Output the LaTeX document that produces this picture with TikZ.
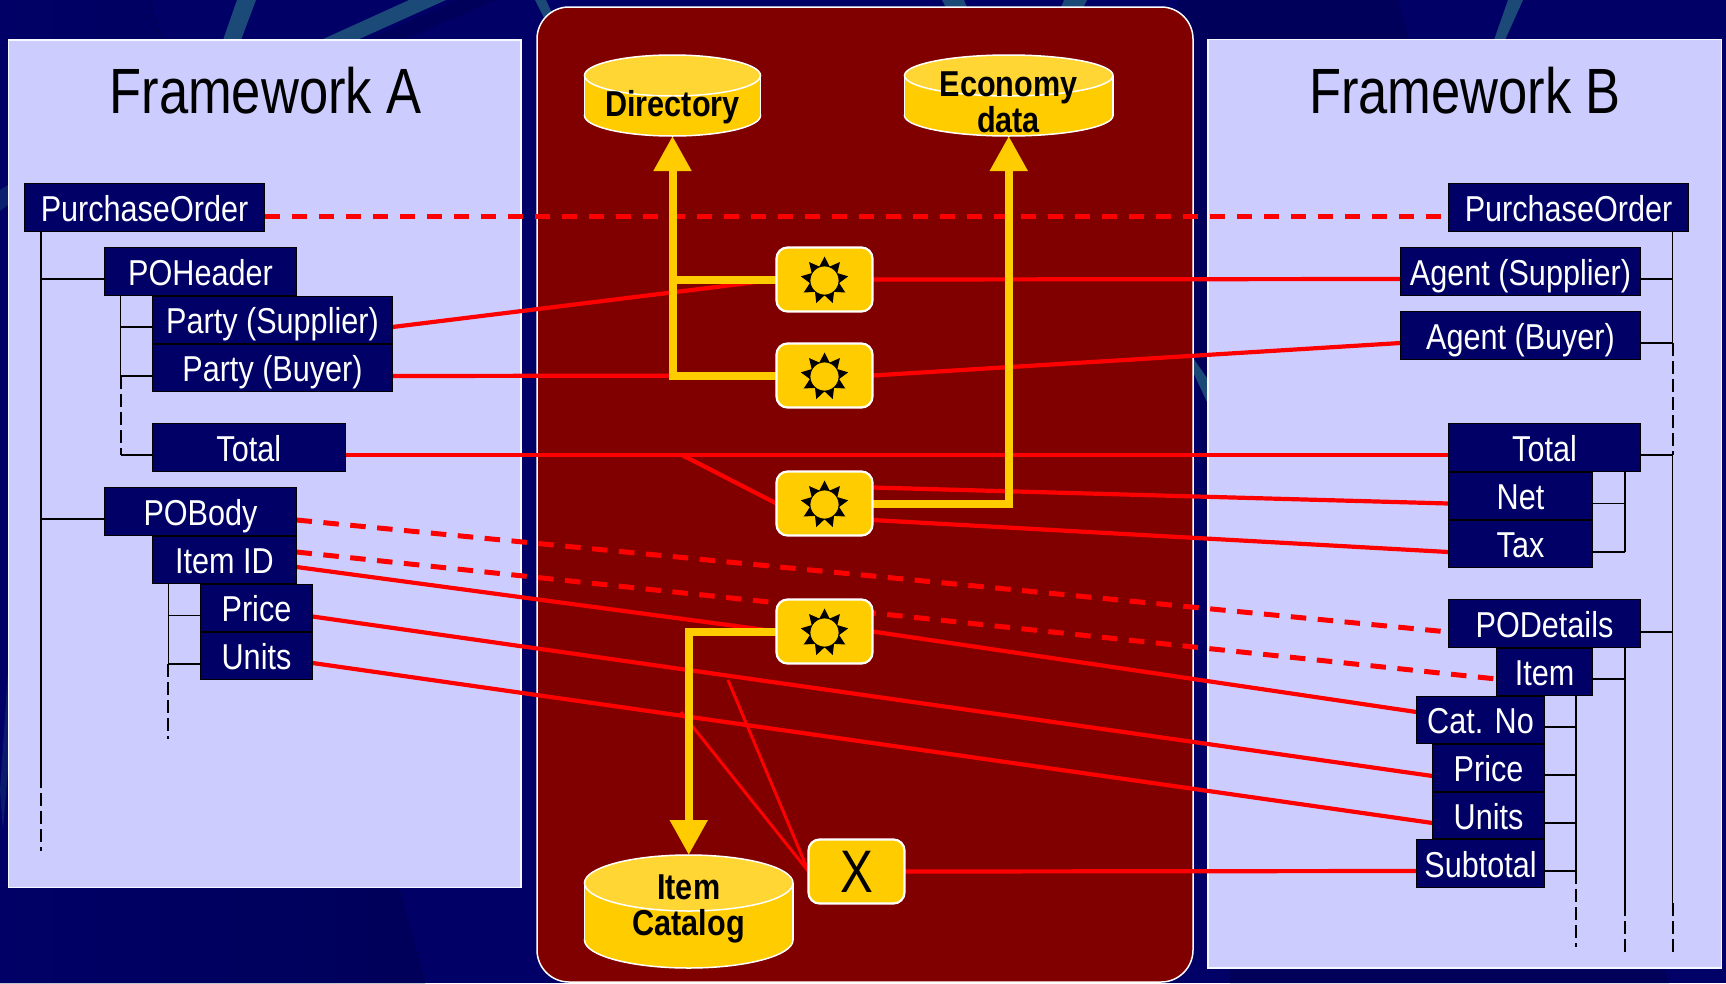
\documentclass[tikz,border=0pt]{standalone}
\usepackage{fontspec}
\setmainfont{Liberation Sans}
\newfontfamily\boxfont[FakeStretch=.85]{Liberation Sans}
\newfontfamily\titlefont[FakeStretch=.82]{Liberation Sans}
\usetikzlibrary{arrows.meta,shapes.geometric,calc}
\definecolor{bgnavy}{HTML}{000066}
\definecolor{bgdark}{HTML}{00005A}
\definecolor{streak}{HTML}{1C4A78}
\definecolor{panel}{HTML}{CCCCFF}
\definecolor{maroon}{HTML}{800000}
\definecolor{gold}{HTML}{FFCC00}
\definecolor{goldlight}{HTML}{FFD633}
\pgfdeclarelayer{back}
\pgfdeclarelayer{redlayer}
\pgfdeclarelayer{yellowlayer}
\pgfsetlayers{back,redlayer,yellowlayer,main}
\tikzset{
  navybox/.style={draw=black,line width=1.2pt,fill=bgnavy,text=white,inner sep=0pt,outer sep=0pt,
    text height=27pt,text depth=0pt,font=\boxfont\fontsize{36}{36}\selectfont},
  pane/.style={draw=white!85!panel,line width=1.5pt,fill=panel,inner sep=0pt,outer sep=0pt},
  center pane/.style={draw=white,line width=1.5pt,fill=maroon,rounded corners=32pt,inner sep=0pt,outer sep=0pt},
  opbox/.style={draw=white,line width=2.2pt,fill=gold,rounded corners=11pt,inner sep=0pt,outer sep=0pt,
    minimum width=96pt,minimum height=64pt},
  sunstar/.style={star,star points=9,star point ratio=1.62,fill=black,draw=none,minimum size=48pt,inner sep=0pt},
  suncore/.style={circle,fill=gold,draw=black,line width=.8pt,minimum size=29pt,inner sep=0pt},
  redline/.style={draw=red,line width=4.2pt},
  redthin/.style={draw=red,line width=3pt},
  reddash/.style={draw=red,line width=5pt,dash pattern=on 15.5pt off 11.5pt},
  yline/.style={draw=gold,line width=8pt},
  yarrow/.style={yline,-{Triangle[width=36pt,length=35pt]}},
  treeline/.style={draw=black,line width=1.6pt},
  treedash/.style={draw=black,line width=2pt,dash pattern=on 13pt off 5pt},
  dbline/.style={draw=white,line width=1.5pt},
  dbanchor/.style={inner sep=0pt,outer sep=0pt,draw=none},
  dbtext/.style={align=center,inner sep=0pt,text=black,font=\boxfont\bfseries\fontsize{36}{36}\selectfont},
  title/.style={text=black,inner sep=0pt,font=\titlefont\fontsize{64}{64}\selectfont},
}
\newcommand\nbox[6]{\node[navybox,minimum width={(#4-#2-1)*1pt},minimum height={(#5-#3-1)*1pt}] (#1) at ({(#2+#4)/2},{(#3+#5)/2}) {#6};}
\newcommand\twig[3]{\draw[treeline] ([yshift=#2pt]#1) -- ([yshift=#2pt]#1 -| #3);}
% name, x1, x2, ytop (top-ellipse centre), ybot (bottom-ellipse centre), ry
\newcommand\dbcyl[6]{%
  \pgfmathsetmacro\cx{(#2+#3)/2}\pgfmathsetmacro\rx{(#3-#2)/2}%
  \draw[dbline,fill=gold] (\cx,#5) ellipse [x radius=\rx,y radius=#6];
  \fill[gold] (#2,#4) rectangle (#3,#5);
  \draw[dbline] (#2,#4) -- (#2,#5) (#3,#4) -- (#3,#5);
  \draw[dbline,fill=goldlight] (\cx,#4) ellipse [x radius=\rx,y radius=#6];
  \node[dbanchor,minimum width={(#3-#2)*1pt},minimum height={(#5-#4+2*#6)*1pt}] (#1) at (\cx,{(#4+#5)/2}) {};
}
\newcommand\sunat[2]{\node[sunstar] (#1star) at ([yshift=-1pt]#2.center) {}; \node[suncore] (#1core) at ([yshift=-1pt]#2.center) {};}
\begin{document}
\begin{tikzpicture}[x=1pt,y=-1pt]
\useasboundingbox (0,0) rectangle (1726,983);

\begin{pgfonlayer}{back}
  \fill[bgnavy] (0,0) rectangle (1726,983);
  \fill[left color=bgnavy,right color=bgdark] (0,0) -- (150,0) -- (425,983) -- (0,983) -- cycle;
  \fill[bgdark] (1177,0) -- (1398,0) -- (1669,983) -- (1230,983) -- cycle;
  \fill[bgdark] (457,0) -- (496,0) -- (407,38) -- (371,38) -- cycle;
  \fill[streak] (237,0) -- (256,0) -- (241,40) -- (223,40) -- cycle;
  \fill[streak] (409,0) -- (446,0) -- (357,40) -- (321,40) -- cycle;
  \fill[streak] (535,0) -- (546,0) -- (556,22) -- (548,26) -- cycle;
  \fill[streak] (942,0) -- (964,0) -- (968,10) -- (947,10) -- cycle;
  \fill[streak] (1064,0) -- (1087,0) -- (1082,10) -- (1060,10) -- cycle;
  \fill[streak] (1508,0) -- (1523,0) -- (1505,40) -- (1494,40) -- cycle;
  \fill[streak] (1193,358) -- (1193,372) -- (1207,402) -- (1207,378) -- cycle;
  \fill[streak!45!bgnavy] (0,190) -- (8,185) -- (8,205) -- (0,211) -- cycle;
  \fill[streak!35!bgnavy] (0,790) -- (8,670) -- (8,770) -- (3,830) -- cycle;
  \node[pane,minimum width=512.5pt,minimum height=847.5pt] (panelA) at (264.75,463.5) {};
  \node[center pane,minimum width=656pt,minimum height=975pt] (panelM) at (865,494.5) {};
  \node[pane,minimum width=513.5pt,minimum height=928.5pt] (panelB) at (1464.75,503.5) {};
\end{pgfonlayer}

\node[title] (titleA) at (265.5,91) {Framework A};
\node[title] (titleB) at (1465,91) {Framework B};

% Framework A boxes
\nbox{poL}{24}{183}{265}{232}{PurchaseOrder}
\nbox{hdr}{104}{247}{297}{296}{POHeader}
\nbox{partyS}{152}{296}{393}{344}{Party (Supplier)}
\nbox{partyB}{152}{344}{393}{392}{Party (Buyer)}
\nbox{totL}{152}{423}{345.6}{472}{Total}
\nbox{body}{104}{487}{297}{536}{POBody}
\nbox{itemid}{152}{536}{297}{584}{Item ID}
\nbox{priceL}{200}{584}{313}{632}{Price}
\nbox{unitsL}{200}{632}{313}{680}{Units}

% Framework B boxes
\nbox{poR}{1448}{183}{1689}{232}{PurchaseOrder}
\nbox{agentS}{1400}{247}{1641}{296}{Agent (Supplier)}
\nbox{agentB}{1400}{311}{1641}{360}{Agent (Buyer)}
\nbox{totR}{1448}{423}{1641}{472}{Total}
\nbox{net}{1448}{472}{1593}{520}{Net}
\nbox{tax}{1448}{520}{1593}{568}{Tax}
\nbox{details}{1448}{599}{1641}{648}{PODetails}
\nbox{item}{1496}{648}{1593}{696}{Item}
\nbox{cat}{1416}{696}{1545}{744}{Cat. No}
\nbox{priceR}{1432}{744}{1545}{792}{Price}
\nbox{unitsR}{1432}{792}{1545}{839}{Units}
\nbox{subtot}{1416}{839}{1545}{888}{Subtotal}

% data stores
\dbcyl{dir}{584.5}{760.5}{75.5}{115.5}{20.5}
\dbcyl{eco}{904.5}{1113}{75.5}{115.5}{20.5}
\dbcyl{catalog}{584.5}{793}{883}{940}{28}
\node[dbtext] (dirT) at (672.5,107) {Directory};
\node[dbtext] (ecoT) at (1008.5,102) {Economy\\data};
\node[dbtext] (catT) at (688.75,908.5) {Item\\Catalog};

% operator boxes
\node[opbox] (g1) at (824.5,279.5) {};
\node[opbox] (g2) at (824.5,375.5) {};
\node[opbox] (g3) at (824.5,503.5) {};
\node[opbox] (g4) at (824.5,631.5) {};
\node[opbox,text=black,font=\titlefont\fontsize{60}{60}\selectfont] (xop) at (856.5,871.5) {X};
\sunat{s1}{g1}
\sunat{s2}{g2}
\sunat{s3}{g3}
\sunat{s4}{g4}

% free ends
\coordinate (tapTotal) at (682,455);
\coordinate (xfreeA) at (681,712);
\coordinate (xfreeB) at (728,680);
\coordinate (t1) at (40.7,775);  \coordinate (t1e) at (40.7,851);
\coordinate (t2) at (120.5,376); \coordinate (t2e) at (120.5,455);
\coordinate (t3) at (168.4,664); \coordinate (t3e) at (168.4,739);
\coordinate (r1a) at (1672.6,343); \coordinate (r1b) at (1672.6,455);
\coordinate (r1c) at (1672.6,903); \coordinate (r1e) at (1672.6,952);
\coordinate (r2a) at (1625,552);
\coordinate (r3) at (1625,903);  \coordinate (r3e) at (1625,952);
\coordinate (r4) at (1576,871);  \coordinate (r4e) at (1576,947);

\begin{pgfonlayer}{redlayer}
  % tree lines, Framework A
  \draw[treeline] (t1 |- poL.south) -- (t1);
  \draw[treedash] (t1) -- (t1e);
  \twig{hdr.west}{-7.5}{t1}
  \twig{body.west}{-7.5}{t1}
  \draw[treeline] (t2 |- hdr.south) -- (t2);
  \draw[treedash] (t2) -- (t2e);
  \twig{partyS.west}{-7}{t2}
  \twig{partyB.west}{-8}{t2}
  \twig{totL.west}{-7.5}{t2}
  \draw[treeline] (t3 |- itemid.south) -- (t3);
  \draw[treedash] (t3) -- (t3e);
  \twig{priceL.west}{-7.5}{t3}
  \twig{unitsL.west}{-8}{t3}
  % tree lines, Framework B
  \draw[treeline] (r1a |- poR.south) -- (r1a);
  \draw[treedash] (r1a) -- (r1b);
  \draw[treeline] (r1b) -- (r1c);
  \draw[treedash] (r1c) -- (r1e);
  \twig{agentS.east}{-7.5}{r1a}
  \twig{agentB.east}{-7.5}{r1a}
  \twig{totR.east}{-7.5}{r1a}
  \twig{details.east}{-8.5}{r1a}
  \draw[treeline] (r2a |- totR.south) -- (r2a);
  \twig{net.east}{-7.5}{r2a}
  \twig{tax.east}{-8}{r2a}
  \draw[treeline] (r3 |- details.south) -- (r3);
  \draw[treedash] (r3) -- (r3e);
  \twig{item.east}{-7}{r3}
  \draw[treeline] (r4 |- item.south) -- (r4);
  \draw[treedash] (r4) -- (r4e);
  \twig{cat.east}{-7}{r4}
  \twig{priceR.east}{-7}{r4}
  \twig{unitsR.east}{-7.5}{r4}
  \twig{subtot.east}{-7.5}{r4}
  % mappings
  \draw[reddash] ([yshift=-8.5pt]poL.east) -- ([yshift=-8.5pt]poR.west);
  \draw[reddash] ([yshift=-8.5pt]body.east) -- ([yshift=-8.5pt]details.west);
  \draw[reddash] ([yshift=8pt]itemid.east) -- ([yshift=-7pt]item.west);
  \draw[redline] ([yshift=-7pt]partyS.east) -- (g1.west);
  \draw[redline] ([yshift=-8pt]partyB.east) -- (g2.west);
  \draw[redline] (g1.east) -- ([yshift=-7.5pt]agentS.west);
  \draw[redline] (g2.east) -- ([yshift=-7.5pt]agentB.west);
  \draw[redline] ([yshift=-7.5pt]totL.east) -- ([yshift=-7.5pt]totR.west);
  \draw[redline] (tapTotal) -- (g3.west);
  \draw[redline] ([yshift=16pt]g3.east) -- ([yshift=-7.5pt]net.west);
  \draw[redline] ([yshift=-16.5pt]g3.east) -- ([yshift=-8pt]tax.west);
  \draw[redline] ([yshift=-7pt]itemid.east) -- (g4.west);
  \draw[redline] (g4.east) -- ([yshift=8pt]cat.west);
  \draw[redline] ([yshift=-8.5pt]priceL.east) -- ([yshift=-8pt]priceR.west);
  \draw[redline] ([yshift=-7pt]unitsL.east) -- ([yshift=-7.5pt]unitsR.west);
  \draw[redline] (xop.east) -- ([yshift=-7.5pt]subtot.west);
  \draw[redthin] (xop.west) -- (xfreeA);
  \draw[redthin] (xop.west) -- (xfreeB);
\end{pgfonlayer}

\begin{pgfonlayer}{yellowlayer}
  \draw[yline] (g1.west) -- (g1.west -| dir.south);
  \draw[yarrow] (g2.west) -| (dir.south);
  \draw[yarrow] (g3.east) -| (eco.south);
  \draw[yarrow] (g4.west) -| (catalog.north);
\end{pgfonlayer}
\end{tikzpicture}
\end{document}
